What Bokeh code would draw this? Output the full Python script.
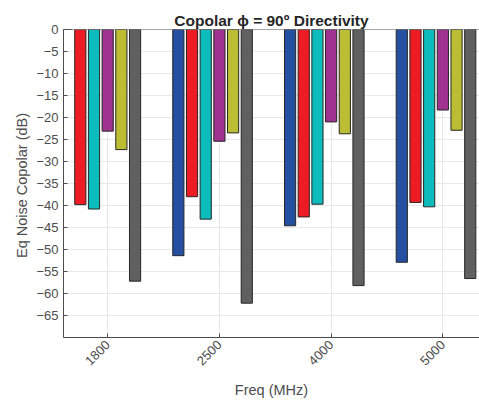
import math
from bokeh.plotting import figure
from bokeh.models import ColumnDataSource, FixedTicker, Range1d, Span
from bokeh.embed import file_html
from bokeh.resources import INLINE

freqs = ["1800", "2500", "4000", "5000"]
series_names = ["s1", "s2", "s3", "s4", "s5", "s6"]
colors = ["#254fa0", "#ed1c24", "#0dbcbc", "#a0338f", "#bcbd33", "#606060"]
s1 = [0.0, -51.4, -44.6, -52.9]
s2 = [-39.8, -38.0, -42.6, -39.3]
s3 = [-40.8, -43.1, -39.7, -40.3]
s4 = [-23.1, -25.4, -21.0, -18.3]
s5 = [-27.3, -23.5, -23.7, -22.9]
s6 = [-57.2, -62.2, -58.2, -56.6]
series = [s1, s2, s3, s4, s5, s6]
yticks = list(range(-65, 1, 5))

slot = 0.1225
bar_w = 0.1

p = figure(width=479, height=406, output_backend="svg", toolbar_location=None,
           x_range=Range1d(0.6045, 4.328), y_range=Range1d(-70, 0),
           min_border_left=63, min_border_right=0, min_border_top=29, min_border_bottom=69)

for i, (vals, col) in enumerate(zip(series, colors)):
    xs = [k + 1 + (i - 3) * slot for k in range(len(freqs))]
    src = ColumnDataSource(dict(x=xs, top=[0] * len(vals), bottom=vals))
    p.vbar(x="x", top="top", bottom="bottom", width=bar_w, source=src,
           fill_color=col, line_color="#262626", line_width=1)

p.add_layout(Span(location=0, dimension="width", line_color="#4d4d4d", line_width=1))

p.title.text = "Copolar \u03d5 = 90\u00ba Directivity"
p.title.align = "center"
p.title.text_font = "Liberation Sans"
p.title.text_font_size = "15.5px"
p.title.text_font_style = "bold"
p.title.text_color = "#262626"
p.title.offset = 0
p.title.standoff = 2

p.xaxis.ticker = FixedTicker(ticks=[1, 2, 3, 4])
p.xaxis.major_label_overrides = {i + 1: f for i, f in enumerate(freqs)}
p.xaxis.major_label_orientation = math.pi / 4
p.yaxis.ticker = FixedTicker(ticks=yticks)

p.xaxis.axis_label = "Freq (MHz)"
p.yaxis.axis_label = "Eq Noise  Copolar (dB)"
for ax in (p.xaxis, p.yaxis):
    ax.axis_label_text_font = "Liberation Sans"
    ax.axis_label_text_font_size = "14.5px"
    ax.axis_label_text_font_style = "normal"
    ax.axis_label_text_color = "#4d4d4d"
    ax.major_label_text_font = "Liberation Sans"
    ax.major_label_text_font_size = "13px"
    ax.major_label_text_color = "#4d4d4d"
    ax.axis_line_color = "#4d4d4d"
    ax.major_tick_line_color = "#4d4d4d"
    ax.major_tick_in = 4
    ax.major_tick_out = 0
    ax.minor_tick_line_color = None
p.yaxis.axis_label_standoff = 3
p.xaxis.axis_label_standoff = 10

p.grid.grid_line_color = "#e8e8e8"
p.grid.grid_line_width = 1
p.outline_line_color = None
p.background_fill_color = "white"
p.border_fill_color = "white"

open("out.html", "w").write(file_html(p, INLINE))
